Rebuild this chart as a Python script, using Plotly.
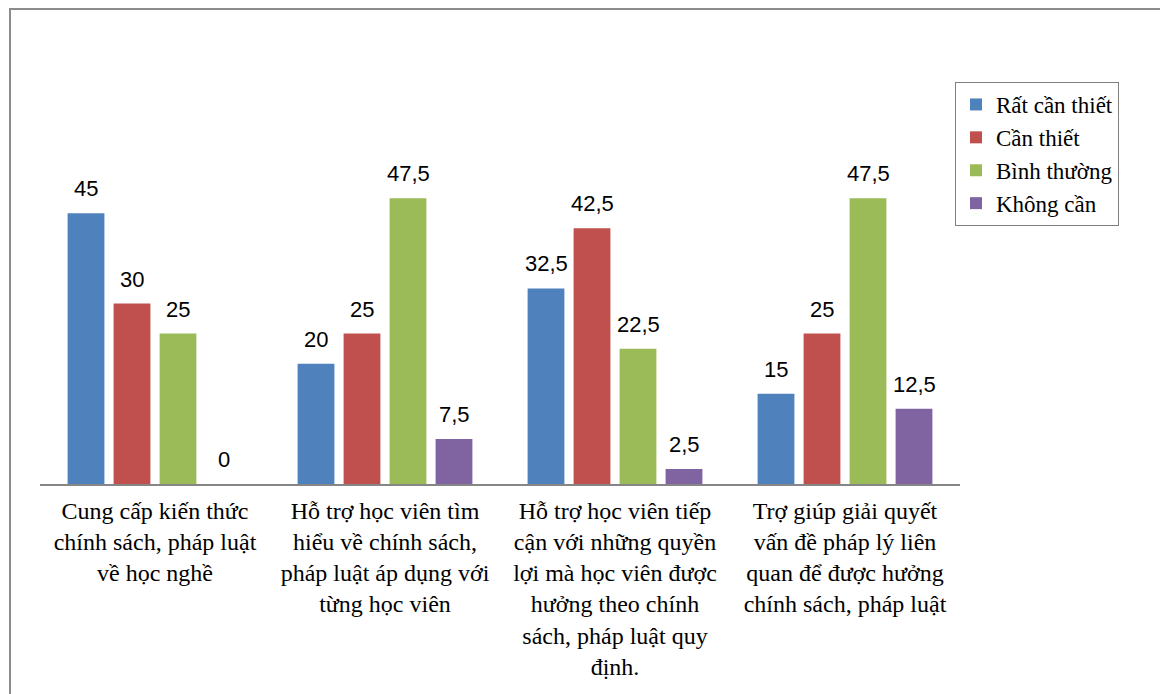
import plotly.graph_objects as go

categories = [
    "Cung cấp kiến thức<br>chính sách, pháp luật<br>về học nghề",
    "Hỗ trợ học viên tìm<br>hiểu về chính sách,<br>pháp luật áp dụng với<br>từng học viên",
    "Hỗ trợ học viên tiếp<br>cận với những quyền<br>lợi mà học viên được<br>hưởng theo chính<br>sách, pháp luật quy<br>định.",
    "Trợ giúp giải quyết<br>vấn đề pháp lý liên<br>quan để được hưởng<br>chính sách, pháp luật",
]
series_names = ["Rất cần thiết", "Cần thiết", "Bình thường", "Không cần"]
rat_can_thiet = [45, 20, 32.5, 15]
can_thiet = [30, 25, 42.5, 25]
binh_thuong = [25, 47.5, 22.5, 47.5]
khong_can = [0, 7.5, 2.5, 12.5]
series_values = [rat_can_thiet, can_thiet, binh_thuong, khong_can]
colors = ["#4F81BD", "#C0504D", "#9BBB59", "#8064A2"]

W, H = 1160, 694
ml, mr, mt, mb = 40, 200, 123, 210
pw = W - ml - mr
ph = H - mt - mb
YMAX = 60

fig = go.Figure()
for j, (name, vals) in enumerate(zip(series_names, series_values)):
    fig.add_trace(go.Bar(
        x=list(range(len(categories))), y=vals, name=name,
        marker=dict(color=colors[j], line=dict(width=0)),
        legendgroup=name,
    ))

nser = len(series_names)
bargap = 0.2
slot = (1 - bargap) / nser
annotations = []
for j, vals in enumerate(series_values):
    for i, v in enumerate(vals):
        txt = ("%g" % v).replace(".", ",")
        annotations.append(dict(
            x=i + (j - (nser - 1) / 2) * slot, y=v, xref="x", yref="y",
            text=txt, showarrow=False, yanchor="bottom", yshift=10,
            font=dict(family="Liberation Sans, Arial", size=22, color="#000000"),
        ))

def px_x(p):
    return (p - ml) / pw

def px_y(p):
    return (H - mb - p) / ph

shapes = [
    dict(type="line", xref="paper", yref="paper", x0=px_x(9), x1=px_x(1170), y0=px_y(9), y1=px_y(9),
         line=dict(color="#8C8C8C", width=2)),
    dict(type="line", xref="paper", yref="paper", x0=px_x(10), x1=px_x(10), y0=px_y(8), y1=px_y(710),
         line=dict(color="#8C8C8C", width=2)),
]

fig.update_layout(
    width=W, height=H,
    margin=dict(l=ml, r=mr, t=mt, b=mb, autoexpand=False),
    paper_bgcolor="white", plot_bgcolor="white",
    barmode="group", bargap=bargap, bargroupgap=0.2,
    showlegend=True,
    legend=dict(
        x=px_x(955), y=px_y(82), xanchor="left", yanchor="top",
        bordercolor="#7F7F7F", borderwidth=1, bgcolor="white",
        font=dict(family="Liberation Serif, Times New Roman, serif", size=23, color="#000000"),
        tracegroupgap=3, traceorder="normal", itemwidth=30,
    ),
    xaxis=dict(
        tickmode="array", tickvals=list(range(len(categories))), ticktext=categories,
        range=[-0.5, len(categories) - 0.5],
        showline=True, linecolor="#868686", linewidth=2,
        showgrid=False, zeroline=False, ticks="", ticklabelstandoff=4,
        tickfont=dict(family="Liberation Serif, Times New Roman, serif", size=24, color="#000000"),
        tickangle=0,
    ),
    yaxis=dict(range=[0, YMAX], visible=False, showgrid=False, zeroline=False),
    annotations=annotations,
    shapes=shapes,
)

fig.write_html("out.html")
